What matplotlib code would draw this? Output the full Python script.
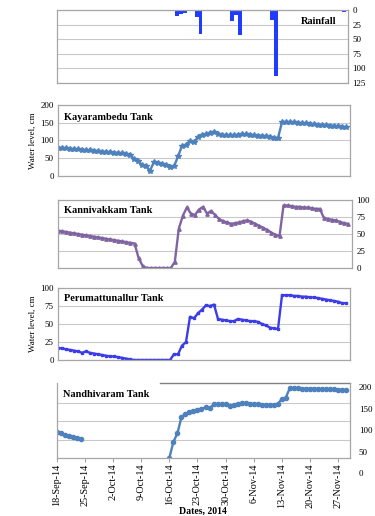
import matplotlib
matplotlib.use('Agg')
import matplotlib.pyplot as plt
import matplotlib.transforms as mtransforms
import numpy as np
import pandas as pd

plt.rcParams['font.family'] = ['Liberation Serif', 'DejaVu Serif']

# --- data: daily readings from 18-Sep-2014 ---
dates = pd.date_range('2014-09-18', periods=73, freq='D')

kayarambedu = [80, 79, 78, 77, 76, 75, 74, 73, 72, 71, 70, 69, 68, 67, 66, 65, 64, 62,
               60, 47, 42, 30, 27, 15, 40, 38, 35, 32, 25, 27, 55, 85, 88, 98, 95, 110,
               115, 118, 122, 125, 118,
               116, 115, 115, 115, 116, 117, 117, 116, 115, 114, 113, 112, 110, 108, 107,
               152, 152, 152, 151, 150, 149, 148, 147, 146, 145, 144, 143, 142, 141, 140,
               139, 138]

kannivakkam = [55, 54, 53, 52, 51, 50, 49, 48, 47, 46, 45, 44, 43, 42, 41, 40, 39, 38, 37, 36,
               15, 3, 0, 0, 0, 0, 0, 0, 0, 9, 58, 77, 89, 80, 78, 86, 90, 80, 84, 78, 72,
               69, 67, 65, 66, 67, 69, 70, 68, 65, 62, 59, 56, 52, 49, 47,
               92, 92, 91, 90, 90, 89, 89, 88, 87, 87, 74, 72, 71, 70, 68, 66, 65]

perumattunallur = [17, 16, 15, 14, 13, 12, 10, 12, 10, 9, 8, 7, 6, 5, 5, 4, 3, 2, 1,
                   0, 0, 0, 0, 0, 0, 0, 0, 0, 0,
                   8, 8, 20, 25, 60, 58, 65, 70, 76, 75, 77, 57, 56, 55, 54, 54, 57, 56,
                   55, 54, 54, 53, 50, 48, 45, 44, 43,
                   90, 90, 90, 89, 89, 88, 88, 87, 87, 86, 85, 84, 83, 82, 81, 79, 79]

nandhivaram = ([97, 95, 92, 89, 86, 84, 81] + [np.nan] * 21 +
               [38, 75, 95, 132, 140, 145, 148, 150, 152, 155, 153, 162, 162, 162, 162,
                158, 160, 164, 166, 165, 164, 163, 162, 161, 161, 161, 161, 163, 175, 178,
                200,
                200, 200, 199, 199, 199, 199, 198, 198, 197, 197, 197, 196, 196, 195])

rain_day = [30, 31, 32, 35, 36, 44, 45, 46, 54, 55, 72]
rain_mm = [10, 6, 5, 12, 41, 19, 8, 43, 17, 113, 4]

# --- styling ---
GRID = '#c9c9c9'
EDGE = '#a6a6a6'
BLUE = '#4f81bd'
PURPLE = '#8064a2'
VIOLET = '#3d3de8'
RAIN = '#1f3cff'
TICK_FS = 6.5
TITLE_FS = 7.4

fig = plt.figure(figsize=(3.75, 5.16), dpi=100)
W, H = 375.0, 516.0


def make_axes(left, right, top, bottom):
    return fig.add_axes([left / W, 1 - bottom / H, (right - left) / W, (bottom - top) / H])


x0 = dates[0]
x1 = dates[0] + pd.Timedelta(days=73)


def style(ax):
    ax.set_xlim(x0, x1)
    for s in ax.spines.values():
        s.set_color(EDGE)
        s.set_linewidth(0.9)
    ax.tick_params(length=0, labelsize=TICK_FS, pad=3)
    ax.set_xticks([])
    ax.grid(axis='y', color=GRID, lw=0.8)
    ax.set_axisbelow(True)


# Rainfall
ax_r = make_axes(57, 348, 10, 83)
style(ax_r)
ax_r.bar(dates[rain_day], rain_mm, width=1.0, color=RAIN, align='center')
ax_r.set_ylim(125, 0)
ax_r.set_yticks([0, 25, 50, 75, 100, 125])
ax_r.yaxis.tick_right()
ax_r.text(0.9, 0.84, 'Rainfall', transform=ax_r.transAxes, ha='center', va='center',
          fontsize=TITLE_FS, fontweight='bold')

# Kayarambedu
ax_k = make_axes(58, 350, 105, 176)
style(ax_k)
ax_k.plot(dates, kayarambedu, color=BLUE, lw=1.7, marker='*', ms=4)
ax_k.set_ylim(0, 200)
ax_k.set_yticks([0, 50, 100, 150, 200])
ax_k.text(0.02, 0.82, 'Kayarambedu Tank', transform=ax_k.transAxes, va='center',
          fontsize=TITLE_FS, fontweight='bold')

# Kannivakkam
ax_c = make_axes(58, 352, 200, 268)
style(ax_c)
ax_c.plot(dates, kannivakkam, color=PURPLE, lw=1.7, marker='^', ms=2.4)
ax_c.set_ylim(0, 100)
ax_c.set_yticks([0, 25, 50, 75, 100])
ax_c.yaxis.tick_right()
ax_c.text(0.02, 0.85, 'Kannivakkam Tank', transform=ax_c.transAxes, va='center',
          fontsize=TITLE_FS, fontweight='bold')

# Perumattunallur
ax_p = make_axes(58, 350, 288, 360)
style(ax_p)
ax_p.plot(dates, perumattunallur, color=VIOLET, lw=1.7, marker='s', ms=1.9)
ax_p.set_ylim(0, 100)
ax_p.set_yticks([0, 25, 50, 75, 100])
ax_p.text(0.02, 0.86, 'Perumattunallur Tank', transform=ax_p.transAxes, va='center',
          fontsize=TITLE_FS, fontweight='bold')

# Nandhivaram (axis labels sit offset from the plotted range)
ax_n = make_axes(57, 350, 383, 458)
style(ax_n)
ax_n.grid(False)
ax_n.plot(dates, nandhivaram, color=BLUE, lw=1.7, marker='o', ms=3)
ax_n.set_ylim(37.5, 212)
ax_n.set_yticks([])
for g in [80, 123, 166]:
    ax_n.axhline(g, color=GRID, lw=0.8, zorder=0)
ax_n.spines['top'].set_visible(False)
ax_n.axhline(212, xmin=(160 - 57) / 293.0, color='#808080', lw=1.0, clip_on=False)
trans = mtransforms.blended_transform_factory(ax_n.transAxes, ax_n.transData)
for v in [0, 50, 100, 150, 200]:
    ax_n.text(1.03, v, str(v), transform=trans, va='center', ha='left',
              fontsize=TICK_FS, clip_on=False)
ax_n.text(0.02, 0.85, 'Nandhivaram Tank', transform=ax_n.transAxes, va='center',
          fontsize=TITLE_FS, fontweight='bold')

tick_dates = dates[::7][:11]
ax_n.set_xticks(tick_dates)
ax_n.set_xticklabels(['%d-%s' % (d.day, d.strftime('%b-%y')) for d in tick_dates],
                     rotation=90, fontsize=7.3)
ax_n.set_xlim(x0, x1)
ax_n.tick_params(axis='x', length=3, color=EDGE, pad=1)

# shared labels
fig.text(33 / W, 1 - 140.5 / H, 'Water level, cm', rotation=90, ha='center', va='center',
         fontsize=6.5)
fig.text(33 / W, 1 - 324 / H, 'Water level, cm', rotation=90, ha='center', va='center',
         fontsize=6.5)
fig.text(203 / W, 1 - 511 / H, 'Dates, 2014', ha='center', va='center',
         fontsize=7, fontweight='bold')

fig.savefig('out.png', dpi=100, facecolor='white')
